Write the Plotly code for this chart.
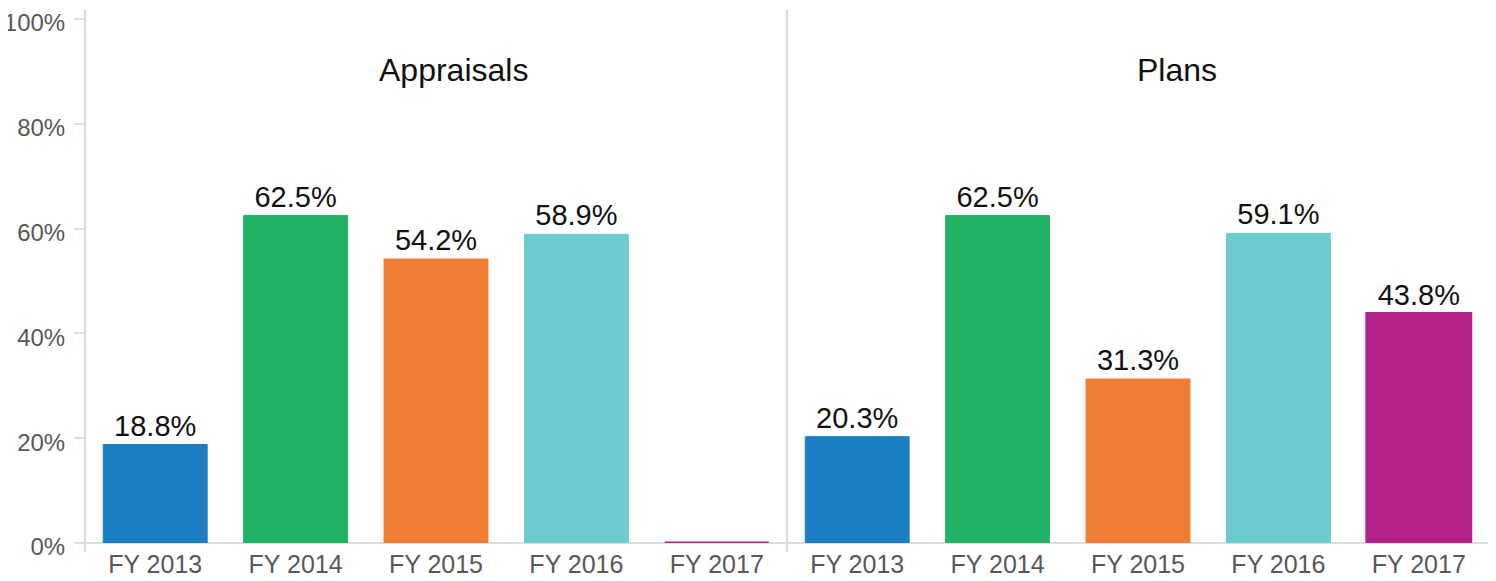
import plotly.graph_objects as go

categories = ["FY 2013", "FY 2014", "FY 2015", "FY 2016", "FY 2017"]
appraisals = [18.8, 62.5, 54.2, 58.9, 0.0]
plans = [20.3, 62.5, 31.3, 59.1, 43.8]
panel_titles = ["Appraisals", "Plans"]
colors = ["#1a80c2", "#21b266", "#ef7d32", "#6ccbcf", "#b3228a"]
y_ticks = [0, 20, 40, 60, 80, 100]
y_tick_labels = ["0%", "20%", "40%", "60%", "80%", "100%"]

FONT = "Liberation Sans"

def labels(vals):
    return [f"{v:.1f}%" if v > 0 else "" for v in vals]

fig = go.Figure()
for vals, xa in [(appraisals, "x"), (plans, "x2")]:
    fig.add_trace(go.Bar(
        x=categories, y=vals, xaxis=xa, yaxis="y",
        marker=dict(color=colors, line=dict(color=colors, width=[1, 1, 1, 1, 3])),
        text=labels(vals), textposition="outside", cliponaxis=False,
        textfont=dict(family=FONT, size=29, color="#111111"),
        showlegend=False, hoverinfo="skip",
    ))

axis_common = dict(
    showgrid=False, zeroline=False, showline=False, automargin=False,
    tickfont=dict(family=FONT, size=25, color="#585858"),
    ticks="", ticklabelstandoff=4, fixedrange=True,
)
fig.update_layout(
    width=1488, height=573,
    margin=dict(l=77, r=7, t=11, b=38),
    paper_bgcolor="white", plot_bgcolor="white",
    bargap=0.26,
    xaxis=dict(domain=[0, 0.5], **axis_common),
    xaxis2=dict(domain=[0.5, 1], anchor="y", **axis_common),
    yaxis=dict(
        range=[0, 100.01], tickvals=y_ticks, ticktext=y_tick_labels,
        showgrid=False, zeroline=True, zerolinecolor="#dddddd", zerolinewidth=2,
        showline=False, ticks="outside", ticklen=10, tickcolor="#dddddd", tickwidth=2,
        ticklabelstandoff=4, ticklabelshift=4, ticklabeloverflow="allow", automargin=False,
        tickfont=dict(family=FONT, size=24, color="#585858"),
    ),
    shapes=[
        dict(type="line", xref="paper", yref="paper", x0=0, x1=0, y0=-0.017, y1=1.017,
             line=dict(color="#dddddd", width=2.5), layer="below"),
        dict(type="line", xref="paper", yref="paper", x0=0.5, x1=0.5, y0=-0.017, y1=1.017,
             line=dict(color="#dddddd", width=2.5), layer="below"),
    ],
    annotations=[
        dict(text=panel_titles[0], xref="paper", yref="paper", x=0.2626, y=0.903,
             showarrow=False, xanchor="center", yanchor="middle",
             font=dict(family=FONT, size=32, color="#111111")),
        dict(text=panel_titles[1], xref="paper", yref="paper", x=0.778, y=0.903,
             showarrow=False, xanchor="center", yanchor="middle",
             font=dict(family=FONT, size=32, color="#111111")),
    ],
)

fig.write_html("out.html")
